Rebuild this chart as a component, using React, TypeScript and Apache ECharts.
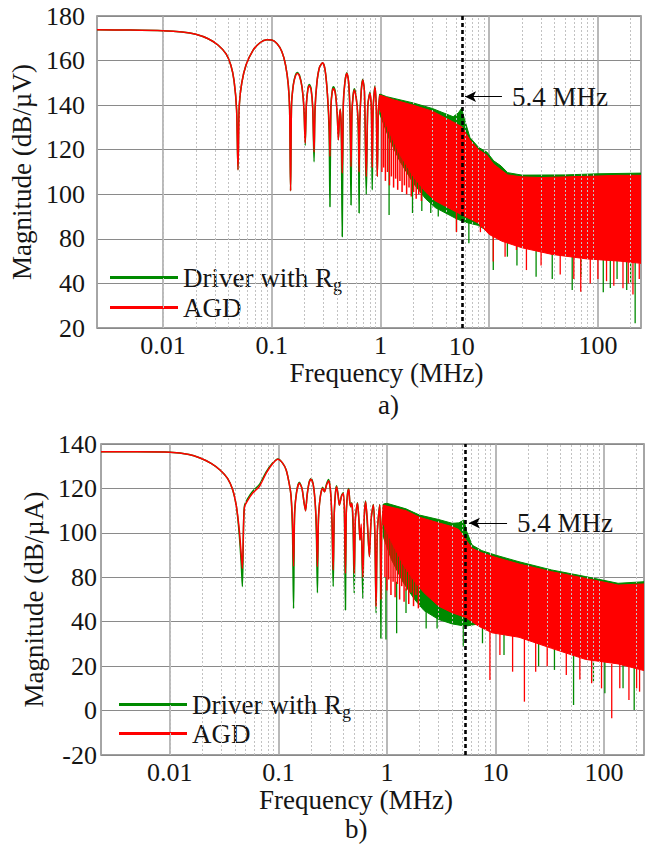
import { useEffect, useRef } from 'react';
import * as echarts from 'echarts';

const FONT = 'Liberation Serif';
const TXT = '#151515';
const GREEN = '#008a00';
const RED = '#ff0000';

// ---------- axis ranges / ticks ----------
const topXRange = [0.00247, 249];
const botXRange = [0.00232, 234];
const topXTickValues = [0.01, 0.1, 1, 100];
const topXTickLabels = ['0.01', '0.1', '1', '100'];
const botXTickValues = [0.01, 0.1, 1, 10, 100];
const botXTickLabels = ['0.01', '0.1', '1', '10', '100'];
const topYTickValues = [40, 60, 80, 100, 120, 140, 160, 180];
const topYTickLabels = ['20', '40', '80', '100', '120', '140', '160', '180'];
const botYTickValues = [0, 20, 40, 60, 80, 100, 120, 140];
const botYTickLabels = ['-20', '0', '20', '40', '80', '100', '120', '140'];
const minorMultipliers = [2, 3, 4, 5, 6, 7, 8, 9];
const decades = [0.001, 0.01, 0.1, 1, 10, 100];

// ---------- (a) low-frequency curve ----------
const topLowFreq = [0.00247, 0.005, 0.01, 0.015, 0.02, 0.026, 0.032, 0.038, 0.042, 0.045, 0.0475, 0.0489, 0.0503, 0.053, 0.058, 0.067, 0.078, 0.09, 0.1, 0.112, 0.124, 0.134, 0.142, 0.146, 0.149, 0.152, 0.158, 0.165, 0.172, 0.18, 0.19, 0.198, 0.203, 0.208, 0.215, 0.222, 0.23, 0.238, 0.245, 0.25, 0.26, 0.275, 0.294, 0.31, 0.325, 0.337, 0.343, 0.35, 0.36, 0.37, 0.385, 0.4, 0.41, 0.42, 0.427, 0.436, 0.445, 0.455, 0.47, 0.49, 0.51, 0.525, 0.536, 0.546, 0.56, 0.575, 0.598, 0.618, 0.628, 0.636, 0.645, 0.665, 0.687, 0.712, 0.74, 0.765, 0.8, 0.825, 0.84, 0.855, 0.89, 0.915, 0.935, 0.955, 0.986];
const topLowRed = [173.8, 173.7, 173.4, 172.8, 171.8, 169.8, 167, 163, 158, 151, 138, 111, 140, 150, 158, 164.5, 168, 169.3, 169.2, 167.5, 164, 158, 149, 138, 101.6, 140, 149, 153, 154.2, 153, 148, 138, 123, 140, 147, 148.7, 147, 139, 119, 138, 150, 157, 159, 155.5, 145, 132, 117, 139, 146, 147.5, 145, 136, 124.5, 135, 137.8, 130, 109.5, 140, 150, 154.3, 150, 137, 112.4, 136, 144, 146.8, 143, 136, 128, 110, 132, 146, 151.3, 146, 108, 140, 145.3, 138, 112, 138, 148.3, 138, 108, 137, 144.5];
const topLowGreen = [173.8, 173.7, 173.4, 172.8, 171.8, 169.8, 167, 163, 158, 151, 138, 111, 140, 150, 158, 164.5, 168, 169.3, 169.2, 167.5, 164, 158, 149, 138, 101.6, 140, 149.3, 153.4, 154.6, 153.4, 148, 138, 122, 140, 147.5, 149.3, 147.5, 139, 114.6, 138, 150, 157, 159, 155.5, 145, 128, 94.4, 139, 146.5, 148.2, 145.5, 136, 124.5, 135, 138.3, 128, 81, 140, 150, 154.5, 150, 133, 95.2, 136, 144.5, 147.3, 143.5, 135, 124, 91.6, 132, 146.5, 151.6, 146, 100, 140, 145.8, 136, 102, 138, 148.7, 138, 108, 137, 145];

// ---------- (a) dense region envelopes ----------
const topRedUpper = [[0.986, 144.5], [1.3, 142.5], [2, 140], [3, 137.3], [4.6, 132.6], [5.6, 130.3], [6.65, 124.4], [8, 120], [9.5, 117.6], [11, 113.5], [12.8, 111], [14.8, 108.7], [20, 107.8], [30, 107.5], [50, 107.8], [100, 108.2], [150, 108.5], [249, 108.5]];
const topRedLower = [[0.986, 138], [1.2, 128], [1.5, 118], [2, 108], [2.6, 101], [3.2, 97], [4, 94.5], [5, 92], [6, 90], [8, 87], [10, 82], [13, 79], [20, 76], [38, 73], [79, 71], [160, 70], [249, 69]];
const topGreenUpper = [[0.986, 145], [1.14, 143.8], [2, 141], [3, 138.5], [4.66, 134.8], [5.2, 136.5], [5.57, 138.6], [5.9, 134], [6.65, 125.5], [8, 121], [9.5, 119], [11, 115], [12.8, 112.8], [14.8, 109.7], [20, 108.6], [50, 108.7], [100, 109.2], [249, 109.5]];
const topGreenLower = [[0.986, 136], [1.2, 125], [1.5, 115], [2, 105], [2.6, 98], [3.2, 94], [4, 91.5], [5, 89], [6, 87.5], [8, 86], [10, 83], [13, 80], [20, 77], [38, 74], [79, 72], [160, 71], [249, 70]];
// teeth / spikes: [frequency, from, to]
const topRedTeeth = [[1.03, 144, 110], [1.07, 143.8, 112], [1.11, 143.6, 106], [1.16, 143.3, 110], [1.21, 143, 104], [1.26, 142.7, 108], [1.32, 142.3, 103], [1.38, 142, 107], [1.44, 141.7, 102], [1.51, 141.4, 106], [1.58, 141, 101], [1.66, 140.7, 104], [1.74, 140.4, 100], [1.83, 140.2, 103], [1.92, 140, 99], [2.02, 139.8, 101], [2.13, 139.5, 98], [2.25, 139.2, 100], [2.38, 138.8, 97]];
const topGreenSpikes = [[1.2, 127, 90.7], [1.97, 107, 91.6], [2.4, 102, 92.5], [2.9, 99, 91.6], [3.4, 96, 90], [5.0, 91, 83.2], [6.5, 89, 78], [10.9, 83, 66], [14.7, 80, 72], [18, 78, 68], [27, 76, 63], [38, 74, 62], [58, 73, 57], [70, 72, 63], [112, 71, 56], [130, 71, 58], [150, 71, 62], [184, 70, 57], [200, 70, 60], [220, 70, 42.1]];
const topRedSpikes = [[5.0, 93, 83], [8.3, 88, 83], [10.9, 83, 69.8], [14, 81, 72], [17.8, 78, 75], [22, 77, 66], [30, 75, 68], [45, 74, 64], [60, 73, 62], [69.5, 72, 56.3], [85, 72, 60], [100, 71, 62], [120, 71, 61], [140, 71, 59], [170, 70, 57.8], [190, 70, 60], [210, 70, 55], [240, 69, 62]];

// ---------- (b) low-frequency curve ----------
const botLowFreq = [0.00232, 0.005, 0.01, 0.015, 0.019, 0.024, 0.029, 0.034, 0.038, 0.041, 0.0435, 0.0455, 0.0466, 0.0478, 0.0488, 0.052, 0.058, 0.067, 0.077, 0.088, 0.099, 0.109, 0.118, 0.126, 0.131, 0.135, 0.138, 0.141, 0.147, 0.156, 0.165, 0.172, 0.178, 0.184, 0.192, 0.2, 0.209, 0.218, 0.224, 0.229, 0.234, 0.243, 0.256, 0.266, 0.278, 0.29, 0.302, 0.312, 0.32, 0.327, 0.336, 0.344, 0.355, 0.365, 0.382, 0.397, 0.407, 0.415, 0.422, 0.433, 0.445, 0.455, 0.465, 0.475, 0.488, 0.5, 0.512, 0.536, 0.552, 0.565, 0.58, 0.6, 0.617, 0.637, 0.66, 0.69, 0.715, 0.75, 0.775, 0.795, 0.815, 0.86, 0.87, 0.88, 0.895, 0.93];
const botLowRed = [136.5, 136.5, 136.3, 135.3, 133.7, 131.3, 128.3, 124.5, 119.3, 112, 102, 90, 84, 104, 111.8, 114.5, 117.9, 121, 126.8, 131, 133.1, 131.5, 128.3, 122, 116.3, 104, 85, 108, 118, 122.4, 120, 114, 110, 117, 122.5, 124.1, 122, 114, 103, 84.8, 106, 116, 120.1, 118.5, 121.5, 123.5, 119, 106, 83.3, 108, 118, 120.8, 117, 112.5, 116.5, 117.8, 108, 81.8, 108, 117, 119.6, 114, 111.8, 113.3, 106, 81.8, 106, 113.3, 106, 96.8, 104, 80, 106, 114, 106, 89.3, 106, 112.5, 100, 66.8, 100, 112.5, 100, 70, 100, 112.5];
const botLowGreen = [136.5, 136.5, 136.3, 135.3, 133.7, 131.3, 128.3, 124.5, 119.3, 112, 100, 86, 75.8, 104, 112.3, 115.3, 118.7, 121.8, 127.3, 131.3, 133.3, 131.5, 128.3, 122, 116.3, 100, 66, 108, 118.4, 122.8, 120, 114, 110, 117, 122.8, 124.5, 122, 114, 100, 73, 106, 116, 120.5, 118.5, 122, 124, 119, 104, 75.8, 108, 118.3, 121.2, 117, 112.5, 116.8, 118.2, 104, 65.3, 108, 117.3, 120, 114, 111.8, 113.6, 102, 72.8, 106, 113.6, 106, 96.8, 102, 70.5, 106, 114.3, 104, 89.3, 106, 112.8, 98, 63.9, 100, 112.8, 96, 52.5, 100, 113];

// ---------- (b) dense region envelopes ----------
const botRedUpper = [[0.93, 112.5], [1, 112], [1.5, 110], [2, 107], [3, 104.5], [4, 102.8], [4.6, 101.5], [5.1, 98.3], [5.5, 96], [6.1, 93], [7.5, 91], [10, 89], [16.5, 86], [33, 82.5], [68, 79.5], [135, 76.5], [234, 77]];
const botRedLower = [[0.93, 104], [1.1, 96], [1.4, 86], [1.8, 78], [2.2, 73], [3, 67], [4, 64], [5.3, 62], [7, 58], [9.3, 55], [16.5, 53], [33, 48], [68, 43], [135, 41], [234, 38]];
const botGreenUpper = [[0.93, 113], [1, 113.3], [1.5, 110.8], [2, 108], [3, 106], [4, 104.3], [4.6, 104.5], [5.14, 105.8], [5.4, 101], [6.1, 94.5], [7.5, 92], [10, 90], [16.5, 87], [33, 83.3], [68, 80.3], [135, 77.3], [234, 78]];
const botGreenLower = [[0.93, 98], [1.1, 88], [1.4, 78], [1.8, 70], [2.2, 65], [3, 61], [4, 59], [5.3, 58], [7, 59], [9.3, 57], [16.5, 55], [33, 50], [68, 45], [135, 43], [234, 40]];
const botRedTeeth = [[0.96, 112.4, 80], [1.0, 112, 74], [1.04, 111.8, 79], [1.09, 111.5, 72], [1.14, 111.2, 78], [1.19, 110.9, 71], [1.25, 110.5, 77], [1.31, 110.2, 70], [1.37, 109.8, 76], [1.44, 109.3, 69], [1.51, 108.9, 74], [1.59, 108.4, 68], [1.67, 108, 73], [1.76, 107.6, 67], [1.85, 107.3, 72], [1.95, 107, 66]];
const botGreenSpikes = [[0.98, 80, 52], [1.23, 78, 54.8], [1.5, 75, 63.9], [2.3, 70, 57], [2.9, 66, 57], [5.05, 60, 48.8], [7.6, 58, 50.3], [12, 56, 45], [25, 51, 40], [35, 48, 38.3], [52.5, 46, 22.5], [80, 44, 33], [102, 42, 27.8], [150, 41, 30], [190, 40, 20.3]];
const botRedSpikes = [[8.9, 56, 33.8], [11, 55, 45], [14.4, 54, 37.5], [18.5, 53, 24], [23.5, 51, 37.5], [30, 49, 40], [45, 46, 36], [60, 45, 34], [77, 44, 32.3], [95, 43, 30], [118, 41, 16.5], [140, 41, 30], [170, 40, 24.8], [200, 39, 30], [213, 39, 28.5]];

// ---------- annotations ----------
const topMarkerFreq = 5.6;
const botMarkerFreq = 5.3;
const annotationText = '5.4 MHz';
const topArrow = [[13.1, 143.8], [6.0, 143.8]];
const botArrow = [[12.8, 104.4], [5.7, 104.4]];

const SERIES_G = 'Driver with Rg';
const SERIES_R = 'AGD';

function lookup(values: number[], labels: string[], v: number) {
  for (let i = 0; i < values.length; i++) {
    if (Math.abs(Math.log10(v) - Math.log10(values[i])) < 1e-6) return labels[i];
  }
  return '';
}
function lookupLin(values: number[], labels: string[], v: number) {
  for (let i = 0; i < values.length; i++) if (Math.abs(v - values[i]) < 1e-6) return labels[i];
  return '';
}

function minorFreqs(lo: number, hi: number) {
  const out: number[] = [];
  decades.forEach((d) => minorMultipliers.forEach((m) => {
    const f = d * m;
    if (f > lo && f < hi) out.push(f);
  }));
  return out;
}

function bandSeries(gi: number, upper: number[][], lower: number[][], color: string, z: number) {
  return {
    type: 'custom', xAxisIndex: gi, yAxisIndex: gi, z, silent: true, clip: true,
    data: [upper[0]],
    renderItem: (_p: any, api: any) => {
      const pts = upper.map((p) => api.coord(p)).concat(lower.slice().reverse().map((p) => api.coord(p)));
      return { type: 'polygon', shape: { points: pts }, style: { fill: color, stroke: color, lineWidth: 1 } };
    },
  };
}

function spikeSeries(gi: number, spikes: number[][], color: string, z: number, width = 1.3) {
  return {
    type: 'custom', xAxisIndex: gi, yAxisIndex: gi, z, silent: true, clip: true,
    encode: { x: 0, y: [1, 2] },
    data: spikes,
    renderItem: (_p: any, api: any) => {
      const a = api.coord([api.value(0), api.value(1)]);
      const b = api.coord([api.value(0), api.value(2)]);
      return { type: 'line', shape: { x1: a[0], y1: a[1], x2: b[0], y2: b[1] }, style: { stroke: color, lineWidth: width } };
    },
  };
}

function lineSeries(gi: number, name: string, freq: number[], vals: number[], color: string, z: number) {
  return {
    type: 'line', name, xAxisIndex: gi, yAxisIndex: gi, z, silent: true,
    data: freq.map((f, i) => [f, vals[i]]),
    showSymbol: false, symbol: 'none', smooth: 0.25,
    lineStyle: { color, width: 1.5 }, itemStyle: { color },
  };
}

function markerSeries(gi: number, freq: number, yMin: number, yMax: number, arrow: number[][], bottomLabel: string | null) {
  return {
    type: 'line', xAxisIndex: gi, yAxisIndex: gi, z: 10, silent: true, data: [],
    markLine: {
      silent: true, animation: false,
      data: [
        [
          {
            coord: [freq, yMin], symbol: 'none',
            lineStyle: { color: '#000', width: 2.6, type: [4, 3] },
            label: bottomLabel ? { show: true, position: 'start', formatter: bottomLabel, fontSize: 26, lineHeight: 24, fontFamily: FONT, color: TXT, distance: 6 } : { show: false },
          },
          { coord: [freq, yMax], symbol: 'none' },
        ],
        [
          { coord: arrow[0], symbol: 'none', lineStyle: { color: '#000', width: 1.2, type: 'solid' },
            label: { show: true, position: 'start', formatter: annotationText, fontSize: 27, fontFamily: FONT, color: TXT, distance: 10 } },
          { coord: arrow[1], symbol: 'arrow', symbolSize: [8, 11] },
        ],
      ],
    },
  };
}

function minorGridSeries(gi: number, range: number[]) {
  return {
    type: 'line', xAxisIndex: gi, yAxisIndex: gi, z: 1, silent: true, data: [],
    markLine: {
      silent: true, symbol: 'none', animation: false,
      label: { show: false },
      lineStyle: { color: '#c2c2c2', width: 1, type: [2, 2] },
      data: minorFreqs(range[0], range[1]).map((f) => ({ xAxis: f })),
    },
  };
}

function legendItem(name: string, left: number, top: number) {
  return {
    data: [name], left, top, padding: 0, orient: 'vertical', icon: 'rect',
    itemWidth: 68, itemHeight: 3, selectedMode: false,
    formatter: (n: string) => (n === SERIES_G ? '{m|Driver with R}{s|g}' : '{m|' + n + '}'),
    textStyle: {
      color: TXT, fontFamily: FONT, fontSize: 27,
      rich: {
        m: { fontSize: 27, fontFamily: FONT, color: TXT },
        s: { fontSize: 18, fontFamily: FONT, color: TXT, padding: [14, 0, 0, 0] },
      },
    },
  };
}

function xAxis(gi: number, range: number[], vals: number[], labels: string[], pad: number[]) {
  return {
    type: 'log', logBase: 10, gridIndex: gi, min: range[0], max: range[1],
    axisLine: { show: false }, axisTick: { show: false },
    splitLine: { show: true, lineStyle: { color: '#a8a8a8', width: 1.6 } },
    axisLabel: {
      formatter: (v: number) => lookup(vals, labels, v),
      showMinLabel: false, showMaxLabel: false,
      fontSize: 26, lineHeight: 24, fontFamily: FONT, color: TXT, margin: 5,
    },
    name: 'Frequency (MHz)', nameLocation: 'middle', nameGap: 31,
    nameTextStyle: { fontSize: 27, lineHeight: 28, fontFamily: FONT, color: TXT, padding: pad },
  };
}

function yAxis(gi: number, min: number, max: number, vals: number[], labels: string[], name: string, margin: number, gap: number) {
  return {
    type: 'value', gridIndex: gi, min, max, interval: 20,
    axisLine: { show: false }, axisTick: { show: false },
    splitLine: { show: true, lineStyle: { color: '#8a8a8a', width: 1 } },
    axisLabel: { formatter: (v: number) => lookupLin(vals, labels, v), fontSize: 26, fontFamily: FONT, color: TXT, margin },
    name, nameLocation: 'middle', nameGap: gap, nameRotate: 90,
    nameTextStyle: { fontSize: 27, fontFamily: FONT, color: TXT },
  };
}

export default function App() {
  const ref = useRef<HTMLDivElement>(null);
  useEffect(() => {
    const chart = echarts.init(ref.current!, null, { renderer: 'svg' });
    const option: any = {
      animation: false,
      backgroundColor: '#ffffff',
      textStyle: { fontFamily: FONT },
      grid: [
        { left: 97, top: 16, width: 544, height: 312, show: true, borderColor: '#808080', borderWidth: 1.5, backgroundColor: 'transparent' },
        { left: 101, top: 444, width: 543, height: 311, show: true, borderColor: '#808080', borderWidth: 1.5, backgroundColor: 'transparent' },
      ],
      xAxis: [
        xAxis(0, topXRange, topXTickValues, topXTickLabels, [0, 0, 0, 35]),
        xAxis(1, botXRange, botXTickValues, botXTickLabels, [0, 33, 0, 0]),
      ],
      yAxis: [
        yAxis(0, 40, 180, topYTickValues, topYTickLabels, 'Magnitude (dB/µV)', 12, 56),
        yAxis(1, 0, 140, botYTickValues, botYTickLabels, 'Magnitude (dB/µA)', 4, 48),
      ],
      legend: [
        legendItem(SERIES_G, 110, 264),
        legendItem(SERIES_R, 110, 294),
        legendItem(SERIES_G, 119, 691),
        legendItem(SERIES_R, 119, 720),
      ],
      graphic: [
        { type: 'text', left: 378, top: 391, style: { text: 'a)', fontSize: 27, fontFamily: FONT, fill: TXT } },
        { type: 'text', left: 345, top: 815, style: { text: 'b)', fontSize: 27, fontFamily: FONT, fill: TXT } },
      ],
      series: [
        minorGridSeries(0, topXRange),
        bandSeries(0, topGreenUpper, topGreenLower, GREEN, 2),
        lineSeries(0, SERIES_G, topLowFreq, topLowGreen, GREEN, 3),
        spikeSeries(0, topGreenSpikes, GREEN, 3),
        bandSeries(0, topRedUpper, topRedLower, RED, 4),
        lineSeries(0, SERIES_R, topLowFreq, topLowRed, RED, 5),
        spikeSeries(0, topRedTeeth, RED, 5, 1.5),
        spikeSeries(0, topRedSpikes, RED, 5),
        markerSeries(0, topMarkerFreq, 40, 180, topArrow, '10'),

        minorGridSeries(1, botXRange),
        bandSeries(1, botGreenUpper, botGreenLower, GREEN, 2),
        lineSeries(1, SERIES_G, botLowFreq, botLowGreen, GREEN, 3),
        spikeSeries(1, botGreenSpikes, GREEN, 3),
        bandSeries(1, botRedUpper, botRedLower, RED, 4),
        lineSeries(1, SERIES_R, botLowFreq, botLowRed, RED, 5),
        spikeSeries(1, botRedTeeth, RED, 5, 1.5),
        spikeSeries(1, botRedSpikes, RED, 5),
        markerSeries(1, botMarkerFreq, 0, 140, botArrow, null),
      ],
    };
    chart.setOption(option);
    return () => chart.dispose();
  }, []);
  return <div ref={ref} style={{ position: 'absolute', left: 0, top: 0, width: 649, height: 848 }} />;
}
